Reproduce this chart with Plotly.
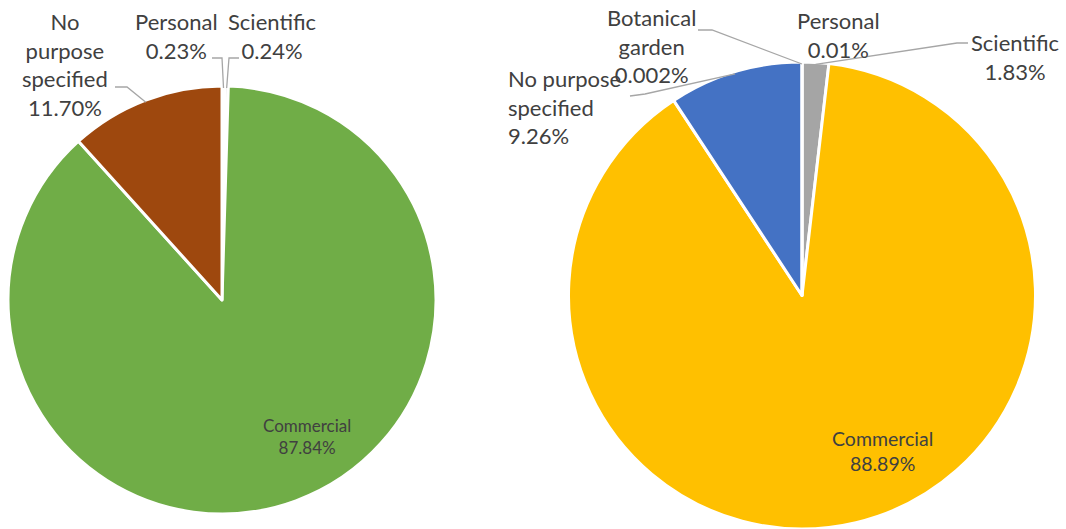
import math
import plotly.graph_objects as go

W, H = 1066, 529

# ---- data ----
left_labels = ["Personal", "Scientific", "Commercial", "No purpose specified"]
left_values = [0.23, 0.24, 87.84, 11.70]
left_text = ["0.23%", "0.24%", "87.84%", "11.70%"]
left_colors = ["#ED7D31", "#A5A5A5", "#70AD47", "#9E480E"]

right_labels = ["Personal", "Scientific", "Commercial", "No purpose specified", "Botanical garden"]
right_values = [0.01, 1.83, 88.89, 9.26, 0.002]
right_text = ["0.01%", "1.83%", "88.89%", "9.26%", "0.002%"]
right_colors = ["#ED7D31", "#A5A5A5", "#FFC000", "#4472C4", "#5B9BD5"]

TEXT_COLOR = "#404040"
LINE_COLOR = "#A6A6A6"
FONT = "Lato"

# ---- layout geometry (pixels) ----
L_CX, L_CY, L_R = 222, 300, 212
R_CX, R_CY, R_R = 802, 297, 233


def px(x):
    return x / W


def py(y):
    return 1 - y / H


fig = go.Figure()
fig.add_trace(go.Pie(
    labels=left_labels, values=left_values, sort=False, direction="clockwise", rotation=0,
    marker=dict(colors=left_colors, line=dict(color="white", width=3)),
    textinfo="none", hoverinfo="label+percent", showlegend=False,
    domain=dict(x=[px(L_CX - L_R - 2), px(L_CX + L_R + 2)],
                y=[py(L_CY + L_R + 2), py(L_CY - L_R - 2)]),
))
fig.add_trace(go.Pie(
    labels=right_labels, values=right_values, sort=False, direction="clockwise", rotation=0,
    marker=dict(colors=right_colors, line=dict(color="white", width=3)),
    textinfo="none", hoverinfo="label+percent", showlegend=False,
    domain=dict(x=[px(R_CX - R_R - 2), px(R_CX + R_R + 2)], y=[0, py(R_CY - R_R - 2)]),
))


def edge_point(values, idx, cx, cy, r):
    total = sum(values)
    start = sum(values[:idx]) / total
    mid = (start + values[idx] / total / 2) * 2 * math.pi
    return cx + r * math.sin(mid), cy - r * math.cos(mid)


annotations = []
shapes = []


def add_label(text, x, y, size=22, align="center"):
    xanchor = "left" if align == "left" else "center"
    annotations.append(dict(
        text=text, x=px(x), y=py(y), xref="paper", yref="paper", showarrow=False,
        xanchor=xanchor, yanchor="middle", align=align,
        font=dict(family=FONT, size=size, color=TEXT_COLOR),
    ))


def add_leader(points, values, idx, cx, cy, r):
    ex, ey = edge_point(values, idx, cx, cy, r)
    pts = points + [(ex, ey)]
    path = "M " + " L ".join(f"{px(a):.5f},{py(b):.5f}" for a, b in pts)
    shapes.append(dict(type="path", path=path, xref="paper", yref="paper",
                       line=dict(color=LINE_COLOR, width=1.3)))


# left pie labels
add_label(f"No<br>purpose<br>specified<br>{left_text[3]}", 65, 64)
add_leader([(115, 87), (127, 87)], left_values, 3, L_CX, L_CY, L_R)
add_label(f"Personal<br>{left_text[0]}", 176, 36)
add_leader([(212, 58), (222, 58)], left_values, 0, L_CX, L_CY, L_R)
add_label(f"Scientific<br>{left_text[1]}", 272, 36)
add_leader([(239, 58), (229, 58)], left_values, 1, L_CX, L_CY, L_R)
add_label(f"Commercial<br>{left_text[2]}", 307, 436, size=17)

# right pie labels
add_label(f"Botanical<br>garden<br>{right_text[4]}", 651, 46)
add_leader([(698, 30), (712, 30)], right_values, 4, R_CX, R_CY, R_R)
add_label(f"No purpose<br>specified<br>{right_text[3]}", 506, 107, align="left")
add_leader([(630, 96), (645, 94)], right_values, 3, R_CX, R_CY, R_R)
add_label(f"Personal<br>{right_text[0]}", 838, 35)
add_label(f"Scientific<br>{right_text[1]}", 1015, 57)
add_leader([(968, 43), (957, 43)], right_values, 1, R_CX, R_CY, R_R)
add_label(f"Commercial<br>{right_text[2]}", 882, 451, size=19.5)

fig.update_layout(
    width=W, height=H, margin=dict(l=0, r=0, t=0, b=0),
    paper_bgcolor="white", plot_bgcolor="white",
    annotations=annotations, shapes=shapes,
)

fig.write_html("out.html")
